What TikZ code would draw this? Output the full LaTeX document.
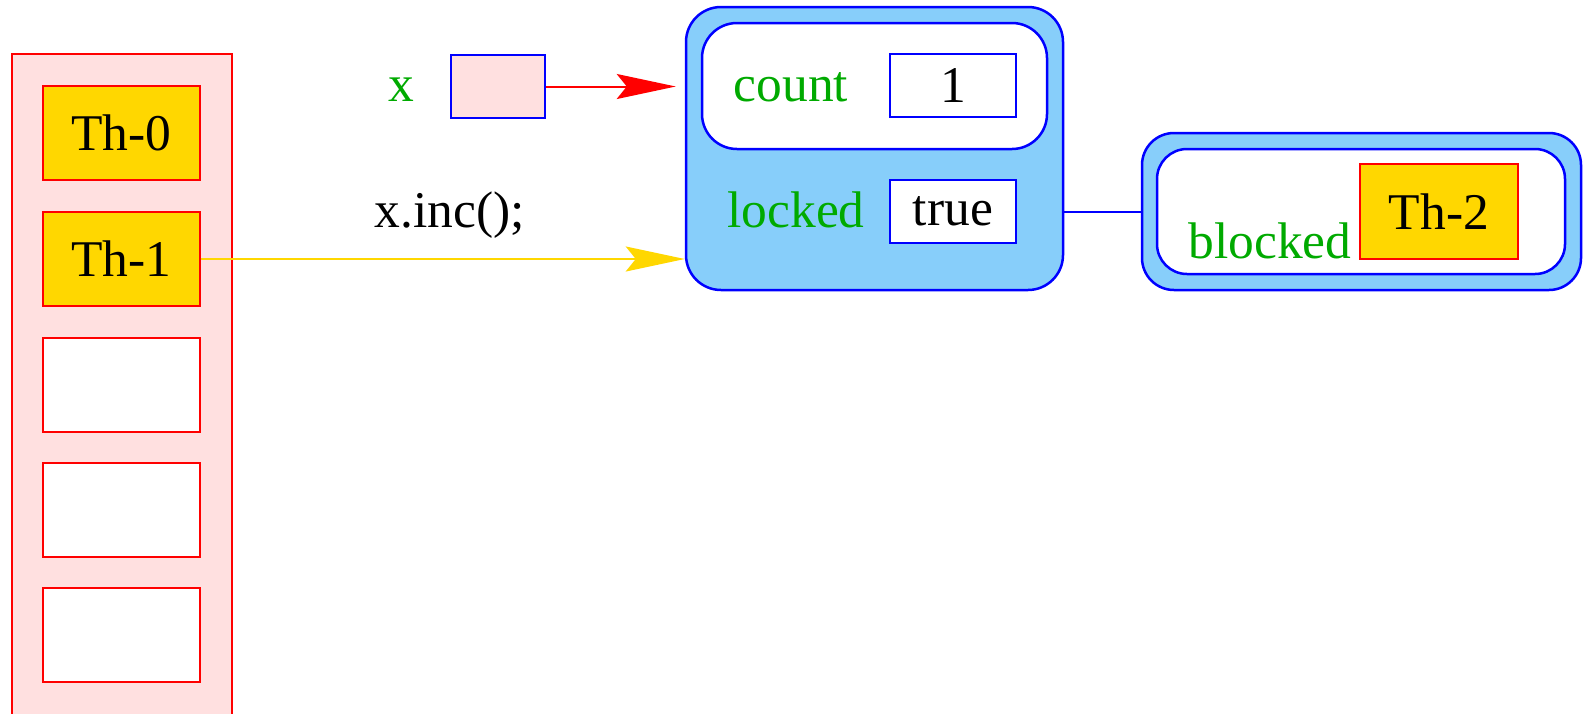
\documentclass[tikz,border=0pt]{standalone}
\usepackage{fontspec}
\setmainfont{Liberation Serif}
\usetikzlibrary{arrows.meta}
\definecolor{pinkbg}{RGB}{255,224,224}
\definecolor{skyfill}{RGB}{135,206,250}
\definecolor{labgreen}{RGB}{0,170,0}
\definecolor{thgold}{RGB}{255,215,0}
\begin{document}
\begin{tikzpicture}[x=1pt,y=-1pt,
every node/.style={font=\fontsize{51.5}{60}\selectfont},
slot/.style={draw=red,line width=2.5pt,fill=white,minimum width=157pt,minimum height=94pt,inner sep=0pt},
thr/.style={slot,fill=thgold},
field/.style={draw=blue,line width=2.5pt,fill=white,minimum width=126pt,minimum height=63pt,inner sep=0pt},
lab/.style={text=labgreen,anchor=base},
shell/.style={draw=blue,line width=2.5pt,fill=skyfill},
core/.style={draw=blue,line width=2.5pt,fill=white},
ptr/.style={line width=2pt,-{Stealth[length=59pt,width=25pt,inset=10pt]}}]
\useasboundingbox (0,0) rectangle (1589,713);
\draw[red,line width=2.5pt,fill=pinkbg] (12,54) rectangle (232,740);
\node[thr] (T0) at (121.5,133) {Th-0};
\node[thr] (T1) at (121.5,259) {Th-1};
\node[slot] (T2) at (121.5,385) {};
\node[slot] (T3) at (121.5,510) {};
\node[slot] (T4) at (121.5,635) {};
\node[lab] (XL) at (401,101) {x};
\node[field,fill=pinkbg,minimum width=94pt] (X) at (498,86.5) {};
\node[anchor=base] (CALL) at (450,227) {x.inc();};
\node[shell,rounded corners=35pt,minimum width=377pt,minimum height=283pt] (O) at (874.5,148.5) {};
\node[core,rounded corners=35pt,minimum width=345pt,minimum height=126pt] (OC) at (874.5,86) {};
\node[lab] (CL) at (791,101) {count};
\node[field] (C) at (953,85.5) {1};
\node[lab] (LL) at (796,227) {locked};
\node[field] (L) at (953,211.5) {true};
\node[shell,rounded corners=32pt,minimum width=439pt,minimum height=157pt] (B) at (1361.5,211.5) {};
\node[core,rounded corners=30pt,minimum width=408pt,minimum height=125pt] (BC) at (1361,211.5) {};
\node[lab,anchor=base west] (BL) at (1185,258) {blocked};
\node[thr,minimum width=158pt,minimum height=95pt] (T5) at (1439,211.5) {Th-2};
\draw[ptr,red,shorten >=9pt] (X) -- (O.west |- X);
\draw[ptr,thgold] (T1) -- (O.west |- T1);
\draw[blue,line width=2pt] (O.east |- L) -- (B.west);
\end{tikzpicture}
\end{document}
